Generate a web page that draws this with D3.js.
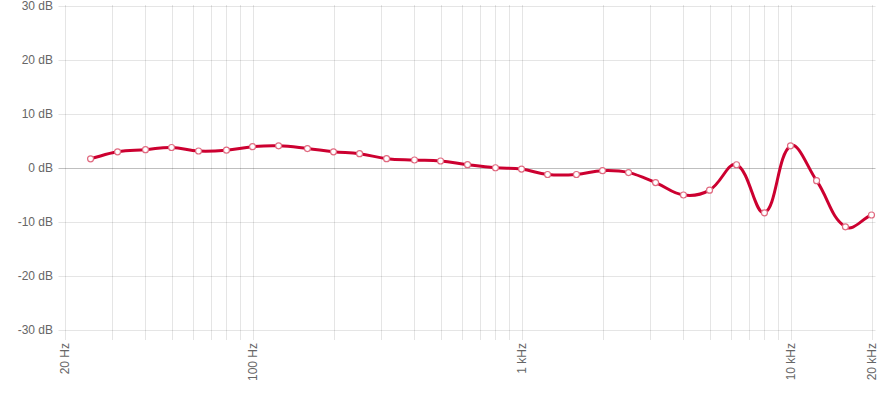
<!DOCTYPE html>
<html>
<head>
<meta charset="utf-8">
<script src="https://cdn.jsdelivr.net/npm/d3@7"></script>
<style>
  html, body { margin: 0; padding: 0; background: #fff; }
  svg { display: block; }
  text { font-family: "Liberation Sans", Arial, Helvetica, sans-serif; font-size: 12px; fill: #666; }
</style>
</head>
<body>
<svg id="chart" width="880" height="404"></svg>
<script>
// ---- data ----
const frequencies = [25, 31.5, 40, 50, 63, 80, 100, 125, 160, 200, 250, 315, 400, 500, 630, 800,
  1000, 1250, 1600, 2000, 2500, 3150, 4000, 5000, 6300, 8000, 10000, 12500, 16000, 20000];
const levels = [1.7, 3.0, 3.4, 3.8, 3.15, 3.3, 3.95, 4.1, 3.6, 3.0, 2.65, 1.73, 1.48, 1.3, 0.62, 0.05,
  -0.2, -1.2, -1.2, -0.5, -0.85, -2.7, -5.0, -4.1, 0.6, -8.3, 4.1, -2.35, -10.9, -8.7];
const yTicks = [30, 20, 10, 0, -10, -20, -30];
const yTickLabels = ["30 dB", "20 dB", "10 dB", "0 dB", "-10 dB", "-20 dB", "-30 dB"];
const xLabelFreqs = [20, 100, 1000, 10000, 20000];
const xLabels = ["20 Hz", "100 Hz", "1 kHz", "10 kHz", "20 kHz"];
const gridFreqs = [20, 30, 40, 50, 60, 70, 80, 90, 100, 200, 300, 400, 500, 600, 700, 800, 900,
  1000, 2000, 3000, 4000, 5000, 6000, 7000, 8000, 9000, 10000, 20000];

// ---- layout ----
const plotLeft = 64.5, plotRight = 871.5, plotTop = 6, plotBottom = 330;
const svg = d3.select("#chart");
const x = d3.scaleLog().domain([20, 20000]).range([plotLeft, plotRight]);
const y = d3.scaleLinear().domain([-30, 30]).range([plotBottom, plotTop]);

// horizontal grid
svg.append("g").selectAll("line").data(yTicks).join("line")
  .attr("x1", plotLeft - 6).attr("x2", plotRight + 4)
  .attr("y1", d => Math.round(y(d)) + 0.5).attr("y2", d => Math.round(y(d)) + 0.5)
  .attr("stroke", d => d === 0 ? "rgba(0,0,0,0.25)" : "rgba(0,0,0,0.1)")
  .attr("stroke-width", 1);

// vertical grid
svg.append("g").selectAll("line").data(gridFreqs).join("line")
  .attr("x1", d => Math.round(x(d)) + 0.5).attr("x2", d => Math.round(x(d)) + 0.5)
  .attr("y1", plotTop - 1).attr("y2", plotBottom + 10)
  .attr("stroke", "rgba(0,0,0,0.1)")
  .attr("stroke-width", 1);

// y labels
svg.append("g").selectAll("text").data(yTicks).join("text")
  .attr("x", 53).attr("y", d => y(d)).attr("dy", "0.35em")
  .attr("text-anchor", "end")
  .text((d, i) => yTickLabels[i]);

// x labels
svg.append("g").selectAll("text").data(xLabelFreqs).join("text")
  .attr("transform", d => `translate(${x(d)},${plotBottom + 13}) rotate(-90)`)
  .attr("dy", "0.35em")
  .attr("text-anchor", "end")
  .text((d, i) => xLabels[i]);

// ---- spline (Chart.js-style tension) ----
const pts = frequencies.map((f, i) => [x(f), y(levels[i])]);
const tension = 0.4;
const cps = pts.map((p, i) => {
  const prev = pts[i - 1] || p, next = pts[i + 1] || p;
  const d01 = Math.hypot(p[0] - prev[0], p[1] - prev[1]);
  const d12 = Math.hypot(next[0] - p[0], next[1] - p[1]);
  let s01 = d01 / (d01 + d12), s12 = d12 / (d01 + d12);
  if (!isFinite(s01)) s01 = 0;
  if (!isFinite(s12)) s12 = 0;
  const fa = tension * s01, fb = tension * s12;
  return {
    prev: [p[0] - fa * (next[0] - prev[0]), p[1] - fa * (next[1] - prev[1])],
    next: [p[0] + fb * (next[0] - prev[0]), p[1] + fb * (next[1] - prev[1])]
  };
});
const path = d3.path();
path.moveTo(pts[0][0], pts[0][1]);
for (let i = 1; i < pts.length; i++) {
  path.bezierCurveTo(cps[i - 1].next[0], cps[i - 1].next[1], cps[i].prev[0], cps[i].prev[1], pts[i][0], pts[i][1]);
}
svg.append("path")
  .attr("d", path.toString())
  .attr("fill", "none")
  .attr("stroke", "#cc0030")
  .attr("stroke-width", 3)
  .attr("stroke-linejoin", "round");

// points
svg.append("g").selectAll("circle").data(pts).join("circle")
  .attr("cx", d => d[0]).attr("cy", d => d[1]).attr("r", 3)
  .attr("fill", "#fff")
  .attr("stroke", "#e06a80")
  .attr("stroke-width", 1.2);
</script>
</body>
</html>
